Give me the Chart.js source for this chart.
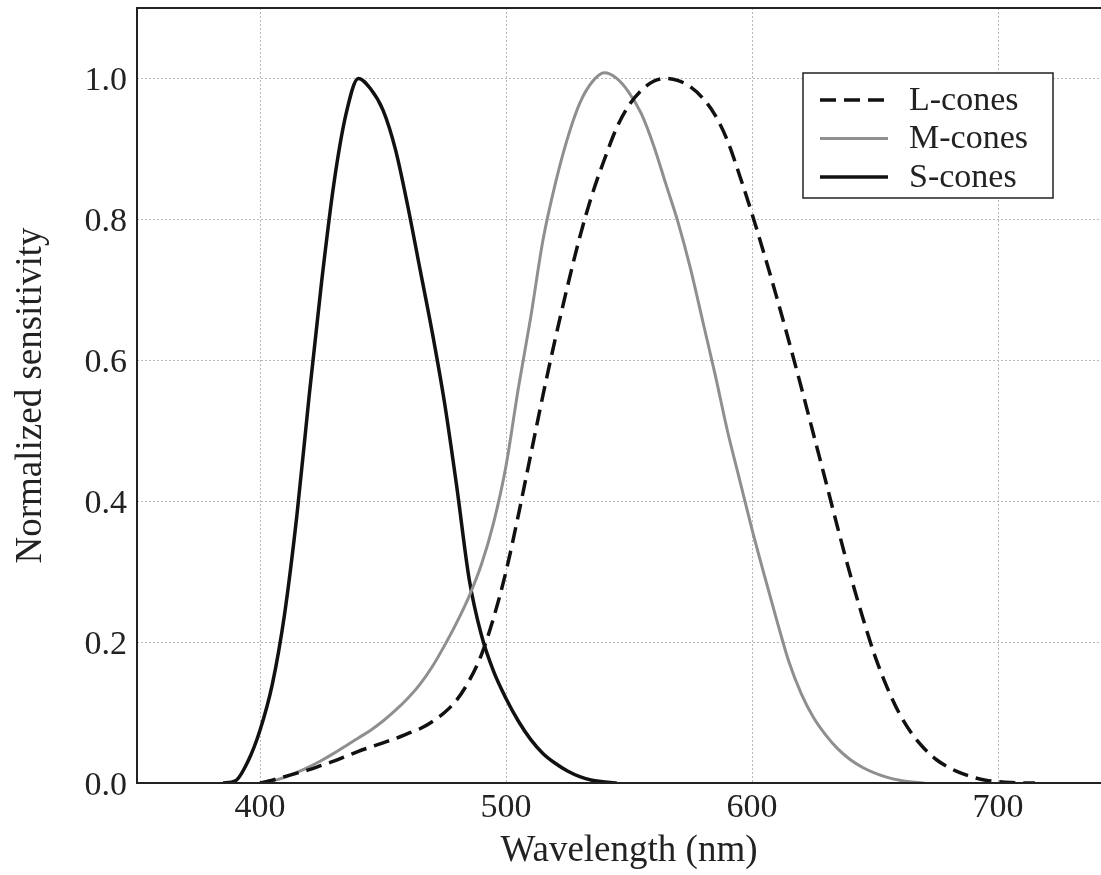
<!DOCTYPE html>
<html>
<head>
<meta charset="utf-8">
<script src="https://cdn.jsdelivr.net/npm/chart.js@4.4.1/dist/chart.umd.min.js"></script>
<style>
  html, body { margin: 0; padding: 0; background: #ffffff; overflow: hidden; }
  #wrap { width: 1140px; height: 875px; }
  canvas { display: block; }
</style>
</head>
<body>
<div id="wrap"><canvas id="c" width="1140" height="875"></canvas></div>
<script>
// Wavelength grid (nm)
const wavelengths = [385,390,395,400,405,410,415,420,425,430,435,440,445,450,455,460,465,470,475,480,485,490,495,500,505,510,515,520,525,530,535,540,545,550,555,560,565,570,575,580,585,590,595,600,605,610,615,620,625,630,635,640,645,650,655,660,665,670,675,680,685,690,695,700,705,710,715];

// L-cones (dashed)
const lCones = [null,null,null,0,0.004,0.009,0.014,0.019,0.025,0.031,0.038,0.045,0.051,0.057,0.063,0.07,0.077,0.087,0.1,0.118,0.145,0.182,0.235,0.3,0.38,0.465,0.55,0.63,0.705,0.775,0.835,0.885,0.93,0.962,0.983,0.996,1.0,0.997,0.988,0.972,0.948,0.912,0.862,0.808,0.75,0.69,0.627,0.562,0.495,0.428,0.36,0.295,0.235,0.18,0.135,0.098,0.07,0.049,0.033,0.022,0.014,0.008,0.004,0.002,0.0007,0,0];

// M-cones (grey)
const mCones = [null,null,null,0,0.003,0.008,0.015,0.023,0.032,0.042,0.053,0.064,0.075,0.088,0.103,0.12,0.14,0.165,0.195,0.228,0.265,0.31,0.37,0.45,0.56,0.66,0.77,0.85,0.915,0.965,0.995,1.008,1.0,0.98,0.95,0.905,0.85,0.795,0.73,0.655,0.58,0.5,0.43,0.36,0.295,0.232,0.172,0.127,0.093,0.068,0.048,0.033,0.022,0.014,0.008,0.004,0.0015,0,null,null,null,null,null,null,null,null,null];

// S-cones (solid black)
const sCones = [0,0.003,0.03,0.075,0.14,0.24,0.38,0.55,0.71,0.85,0.95,1.0,0.985,0.955,0.9,0.82,0.73,0.64,0.54,0.42,0.29,0.21,0.158,0.12,0.088,0.062,0.042,0.028,0.017,0.009,0.004,0.0015,0,null,null,null,null,null,null,null,null,null,null,null,null,null,null,null,null,null,null,null,null,null,null,null,null,null,null,null,null,null,null,null,null,null,null];

const seriesLabels = ['L-cones', 'M-cones', 'S-cones'];
const xTicks = [400, 500, 600, 700];
const yTicks = [0, 0.2, 0.4, 0.6, 0.8, 1.0];

function toPoints(vals) {
  const pts = [];
  for (let i = 0; i < wavelengths.length; i++) {
    if (vals[i] !== null) pts.push({ x: wavelengths[i], y: vals[i] });
  }
  return pts;
}

const SERIF = "'Liberation Serif', 'Times New Roman', serif";

const framePlugin = {
  id: 'frame',
  afterDatasetsDraw(chart) {
    const { ctx, chartArea: a } = chart;
    ctx.save();
    ctx.strokeStyle = '#222';
    ctx.lineWidth = 2;
    ctx.setLineDash([]);
    ctx.strokeRect(a.left, a.top, a.right - a.left, a.bottom - a.top);
    ctx.restore();
  }
};

const boxLegendPlugin = {
  id: 'boxLegend',
  afterDraw(chart) {
    const { ctx } = chart;
    const bx = 803, by = 73, bw = 250, bh = 125;
    ctx.save();
    ctx.fillStyle = '#ffffff';
    ctx.fillRect(bx, by, bw, bh);
    ctx.strokeStyle = '#222';
    ctx.lineWidth = 1.5;
    ctx.setLineDash([]);
    ctx.strokeRect(bx, by, bw, bh);
    chart.data.datasets.forEach((ds, i) => {
      const y = 100 + i * 38.5;
      ctx.beginPath();
      ctx.strokeStyle = ds.borderColor;
      ctx.lineWidth = ds.borderWidth;
      ctx.setLineDash(ds.borderDash || []);
      ctx.moveTo(820, y);
      ctx.lineTo(888, y);
      ctx.stroke();
      ctx.setLineDash([]);
      ctx.fillStyle = '#222';
      ctx.font = '34px ' + SERIF;
      ctx.textBaseline = 'middle';
      ctx.textAlign = 'left';
      ctx.fillText(ds.label, 909, y + 1);
    });
    ctx.restore();
  }
};

new Chart(document.getElementById('c'), {
  type: 'line',
  data: {
    datasets: [
      { label: seriesLabels[0], data: toPoints(lCones), borderColor: '#111', borderWidth: 3.5, borderDash: [16, 8], pointRadius: 0, fill: false, cubicInterpolationMode: 'monotone' },
      { label: seriesLabels[1], data: toPoints(mCones), borderColor: '#8f8f8f', borderWidth: 3, pointRadius: 0, fill: false, cubicInterpolationMode: 'monotone' },
      { label: seriesLabels[2], data: toPoints(sCones), borderColor: '#111', borderWidth: 3.5, pointRadius: 0, fill: false, cubicInterpolationMode: 'monotone' }
    ]
  },
  options: {
    responsive: false,
    animation: false,
    devicePixelRatio: 1,
    layout: { padding: { top: 8, right: 19, left: 0, bottom: 0 } },
    plugins: { legend: { display: false }, tooltip: { enabled: false } },
    scales: {
      x: {
        type: 'linear',
        min: 350,
        max: 750,
        afterBuildTicks: (s) => { s.ticks = xTicks.map(v => ({ value: v })); },
        afterFit: (s) => { s.height = 92; s.paddingLeft = 0; s.paddingRight = 0; s.paddingTop = 0; s.paddingBottom = 0; },
        ticks: { font: { family: SERIF, size: 34 }, color: '#222', padding: 5, maxRotation: 0, autoSkip: false },
        grid: { color: '#b8b8b8', lineWidth: 1, drawTicks: false },
        border: { display: false, dash: [2, 2] },
        title: { display: true, text: 'Wavelength (nm)', font: { family: SERIF, size: 37 }, color: '#222', padding: { top: 0, bottom: 2 } }
      },
      y: {
        type: 'linear',
        min: 0,
        max: 1.1,
        afterBuildTicks: (s) => { s.ticks = yTicks.map(v => ({ value: v })); },
        afterFit: (s) => { s.width = 137; s.paddingLeft = 0; s.paddingRight = 0; s.paddingTop = 0; s.paddingBottom = 0; },
        ticks: { font: { family: SERIF, size: 34 }, color: '#222', padding: 10, labelOffset: 3, callback: (v) => Number(v).toFixed(1) },
        grid: { color: '#b8b8b8', lineWidth: 1, drawTicks: false },
        border: { display: false, dash: [2, 2] },
        title: { display: true, text: 'Normalized sensitivity', font: { family: SERIF, size: 37 }, color: '#222', padding: { top: 9, bottom: 0 } }
      }
    }
  },
  plugins: [framePlugin, boxLegendPlugin]
});
</script>
</body>
</html>
